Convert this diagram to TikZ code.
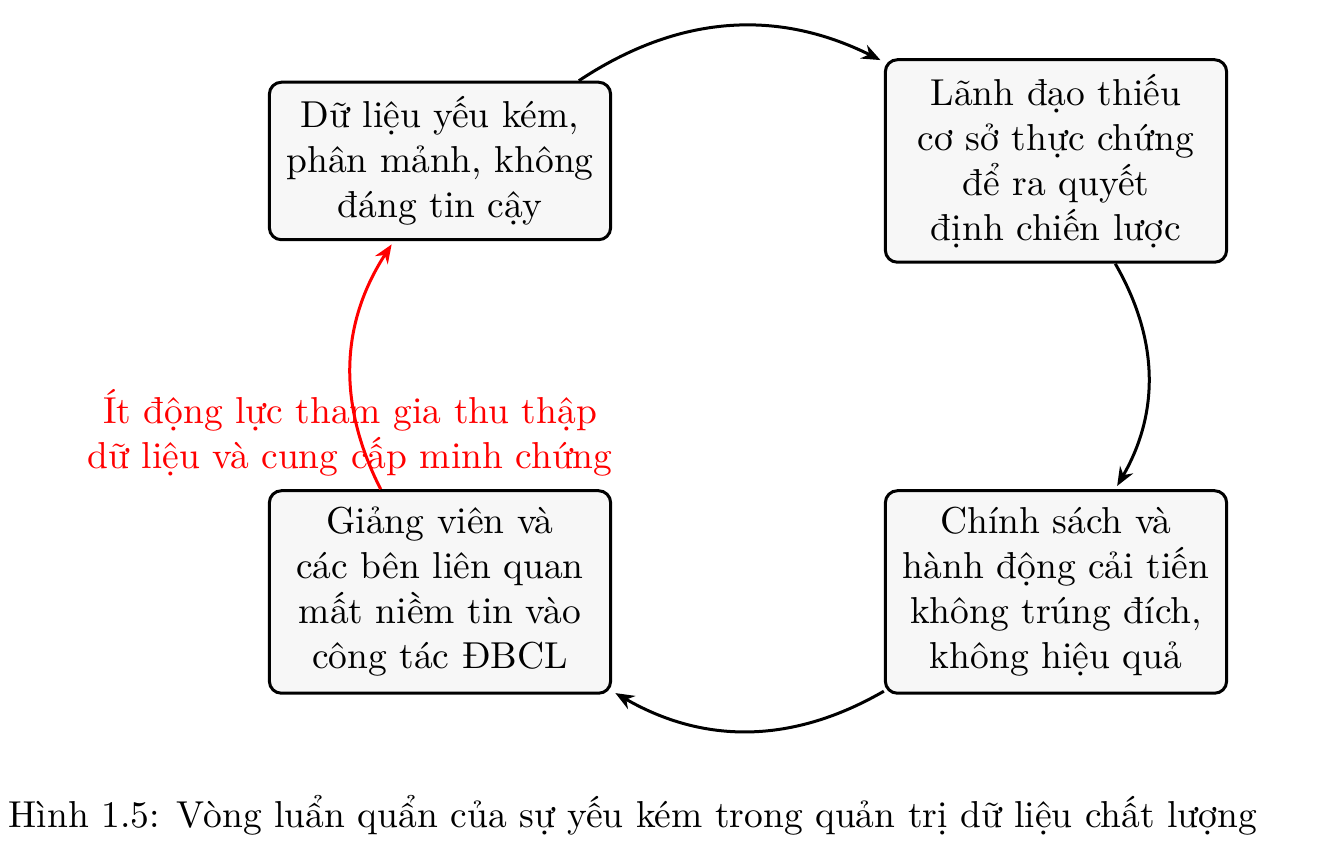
\documentclass[tikz,border=0pt]{standalone}
\usepackage{fontspec}
\usetikzlibrary{arrows.meta}
\begin{document}
\begin{tikzpicture}[x=0.26667pt,y=-0.26667pt,
  box/.style={draw, thick, rounded corners=3.2pt, fill=gray!6, align=center,
    minimum width=91pt, inner sep=3.33pt},
  link/.style={-{Stealth[length=5pt,width=4pt]}, thick}]
\useasboundingbox (0,0) rectangle (1321,867);
\node[box, minimum height=42pt] (b1) at (440,161) {Dữ liệu yếu kém,\\phân mảnh, không\\đáng tin cậy};
\node[box, minimum height=54pt] (b2) at (1056,161) {Lãnh đạo thiếu\\cơ sở thực chứng\\để ra quyết\\định chiến lược};
\node[box, minimum height=54pt] (b3) at (1056,592) {Chính sách và\\hành động cải tiến\\không trúng đích,\\không hiệu quả};
\node[box, minimum height=54pt] (b4) at (440,592) {Giảng viên và\\các bên liên quan\\mất niềm tin vào\\công tác ĐBCL};
\draw[link, shorten >=1pt] (b1) to[bend left=30] (b2);
\draw[link, shorten >=1pt] (b2) to[bend left=30] (b3);
\draw[link, shorten >=1pt] (b3) to[bend left=30] (b4);
\draw[link, red, shorten >=1pt] (b4) to[bend left=30] (b1);
\node[red, align=center, inner sep=0pt] (lbl) at (350,433) {Ít động lực tham gia thu thập\\dữ liệu và cung cấp minh chứng};
\node[anchor=base west, inner sep=0pt] (cap) at (8,828) {Hình 1.5: Vòng luẩn quẩn của sự yếu kém trong quản trị dữ liệu chất lượng};
\end{tikzpicture}
\end{document}
